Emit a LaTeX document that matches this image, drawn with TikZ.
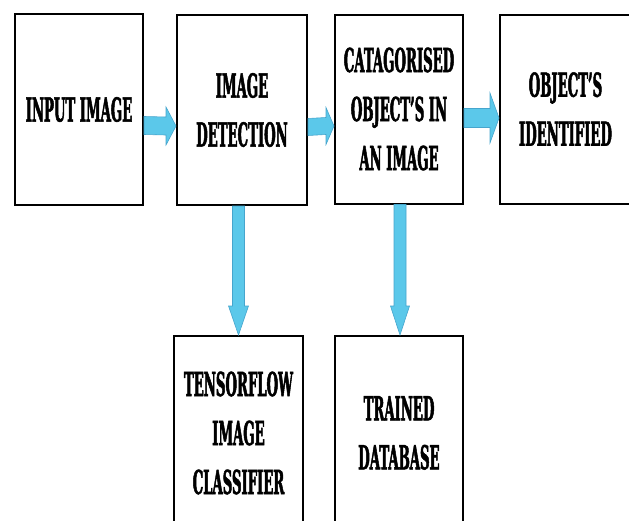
\documentclass[tikz,border=0pt]{standalone}
\usepackage{fontspec}
\newfontfamily\boxfont[FakeStretch=0.40,FakeBold=1.5]{DejaVu Serif}
\usetikzlibrary{calc}
\definecolor{arrowblue}{RGB}{91,200,234}
\definecolor{arrowedge}{RGB}{70,165,205}
\tikzset{
  box/.style={draw=black, line width=2pt, rectangle, inner sep=0pt, align=center,
    font=\boxfont\bfseries\fontsize{33}{49}\selectfont},
  barrow/.style={fill=arrowblue, draw=arrowedge, line width=0.6pt, line join=miter}
}
% horizontal block arrow: from, to, yoffset, half shaft, half head, head length
\newcommand\hbarrow[6]{%
  \filldraw[barrow] ($(#1.east)+(0,#3-#4)$) -- ($(#2.west)+(-#6,#3-#4)$)
    -- ($(#2.west)+(-#6,#3-#5)$) -- ($(#2.west)+(0,#3)$)
    -- ($(#2.west)+(-#6,#3+#5)$) -- ($(#2.west)+(-#6,#3+#4)$)
    -- ($(#1.east)+(0,#3+#4)$) -- cycle;}
% vertical block arrow (straight, at the target's centre): from, to, xoffset, half shaft, half head, head length
\newcommand\vbarrow[6]{%
  \coordinate (vbstart) at (#1.south -| #2.north);
  \filldraw[barrow] ($(vbstart)+(#3-#4,0)$) -- ($(#2.north)+(#3-#4,-#6)$)
    -- ($(#2.north)+(#3-#5,-#6)$) -- ($(#2.north)+(#3,0)$)
    -- ($(#2.north)+(#3+#5,-#6)$) -- ($(#2.north)+(#3+#4,-#6)$)
    -- ($(vbstart)+(#3+#4,0)$) -- cycle;}
\begin{document}
\begin{tikzpicture}[x=1pt,y=-1pt]
\useasboundingbox (0,0) rectangle (629,520);
\clip (0,0) rectangle (629,520);
\node[box, minimum width=128pt, minimum height=191pt] (input) at (79,109.5) {INPUT IMAGE};
\node[box, minimum width=130pt, minimum height=190pt] (detect) at (242,110) {IMAGE\\DETECTION};
\node[box, minimum width=128pt, minimum height=189pt] (cat) at (399,109) {CATAGORISED\\OBJECT’S IN\\AN IMAGE};
\node[box, minimum width=131pt, minimum height=189pt] (ident) at (565.5,109) {OBJECT’S\\IDENTIFIED};
\node[box, minimum width=129pt, minimum height=194pt] (tf) at (238.5,433) {TENSORFLOW\\IMAGE\\CLASSIFIER};
\node[box, minimum width=128pt, minimum height=194pt] (db) at (399,433) {TRAINED\\DATABASE};
\hbarrow{input}{detect}{16}{9}{19}{10}
\hbarrow{detect}{cat}{17}{8.5}{18.5}{8}
\hbarrow{cat}{ident}{9}{9.5}{25}{9}
\vbarrow{detect}{tf}{0}{6}{10}{29}
\vbarrow{cat}{db}{1}{6}{9.5}{29}
\end{tikzpicture}
\end{document}
